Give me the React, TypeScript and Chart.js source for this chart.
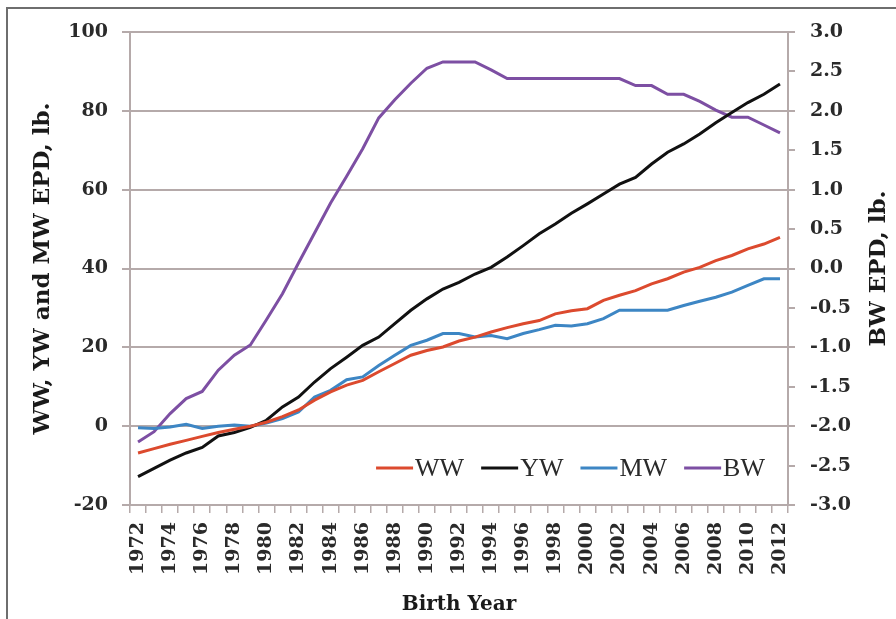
import React, { useEffect, useRef } from "react";
import { Chart, registerables } from "chart.js";

Chart.register(...registerables);

const years: string[] = [];
for (let y = 1972; y <= 2012; y++) years.push(String(y));

const wwValues = [
  -6.8, -5.7, -4.6, -3.6, -2.6, -1.6, -0.8, 0, 1.0, 2.4, 4.1, 6.6, 8.7, 10.4, 11.6, 13.8, 15.9, 18.0, 19.2, 20.1,
  21.6, 22.6, 23.9, 25.0, 26.0, 26.8, 28.5, 29.3, 29.8, 31.9, 33.2, 34.4, 36.1, 37.4, 39.1, 40.3, 42.0, 43.3, 45.0,
  46.2, 47.9,
];
const ywValues = [
  -12.8, -10.7, -8.6, -6.8, -5.4, -2.5, -1.6, -0.3, 1.5, 4.9, 7.4, 11.2, 14.6, 17.5, 20.5, 22.6, 26.0, 29.4, 32.3,
  34.8, 36.5, 38.6, 40.3, 42.9, 45.8, 48.8, 51.3, 54.0, 56.4, 58.9, 61.4, 63.1, 66.5, 69.5, 71.6, 74.1, 77.0, 79.6,
  82.1, 84.2, 86.8,
];
const mwValues = [
  -0.4, -0.6, -0.2, 0.5, -0.6, 0, 0.3, 0, 0.8, 1.9, 3.6, 7.4, 9.1, 11.8, 12.5, 15.4, 18.0, 20.5, 21.8, 23.5, 23.5,
  22.6, 23.0, 22.2, 23.5, 24.5, 25.6, 25.4, 26.0, 27.3, 29.4, 29.4, 29.4, 29.4, 30.6, 31.7, 32.7, 34.0, 35.7, 37.4,
  37.4,
];
const bwValues = [
  -2.2, -2.07, -1.84, -1.65, -1.56, -1.29, -1.1, -0.97, -0.65, -0.32, 0.07, 0.45, 0.83, 1.17, 1.52, 1.91, 2.14, 2.35,
  2.54, 2.62, 2.62, 2.62, 2.52, 2.41, 2.41, 2.41, 2.41, 2.41, 2.41, 2.41, 2.41, 2.32, 2.32, 2.21, 2.21, 2.12, 2.01,
  1.92, 1.92, 1.82, 1.72,
];

const seriesNames = ["WW", "YW", "MW", "BW"];
const seriesColors = ["#dc4a2e", "#111111", "#3d86c4", "#7d4fa3"];

const xTitle = "Birth Year";
const leftTitle = "WW, YW and MW EPD, lb.";
const rightTitle = "BW EPD, lb.";

const FONT = "'DejaVu Serif', serif";
const LEGEND_FONT = "'Liberation Serif', serif";
const GRID = "#b5aaaa";
const TEXT = "#2a2a2a";

const legendPlugin = {
  id: "insideLegend",
  afterDatasetsDraw(chart: any) {
    const { ctx, chartArea } = chart;
    ctx.save();
    ctx.font = `26px ${LEGEND_FONT}`;
    const lineLen = 37;
    const gapText = 2;
    const gapItem = 17;
    const widths = seriesNames.map((n) => ctx.measureText(n).width);
    let total = 0;
    widths.forEach((w, i) => {
      total += lineLen + gapText + w + (i < widths.length - 1 ? gapItem : 0);
    });
    let x = chartArea.right - 23 - total;
    const y = chartArea.bottom - 37;
    ctx.textBaseline = "middle";
    ctx.textAlign = "left";
    seriesNames.forEach((n, i) => {
      ctx.strokeStyle = seriesColors[i];
      ctx.lineWidth = 3;
      ctx.beginPath();
      ctx.moveTo(x, y);
      ctx.lineTo(x + lineLen, y);
      ctx.stroke();
      x += lineLen + gapText;
      ctx.fillStyle = "#2a2a2a";
      ctx.fillText(n, x, y + 1);
      x += widths[i] + gapItem;
    });
    ctx.restore();
  },
};

const rightTitlePlugin = {
  id: "rightTitle",
  afterDraw(chart: any) {
    const { ctx, chartArea } = chart;
    ctx.save();
    ctx.font = `bold 23px ${FONT}`;
    ctx.fillStyle = "#1a1a1a";
    ctx.translate(879, (chartArea.top + chartArea.bottom) / 2);
    ctx.rotate(-Math.PI / 2);
    ctx.textAlign = "center";
    ctx.textBaseline = "middle";
    ctx.fillText(rightTitle, 0, 0);
    ctx.restore();
  },
};

export default function App() {
  const ref = useRef<HTMLCanvasElement | null>(null);

  useEffect(() => {
    if (!ref.current) return;
    const data = [wwValues, ywValues, mwValues, bwValues];
    const chart = new Chart(ref.current, {
      type: "line",
      data: {
        labels: years,
        datasets: seriesNames.map((name, i) => ({
          label: name,
          data: data[i],
          borderColor: seriesColors[i],
          backgroundColor: seriesColors[i],
          borderWidth: 3,
          pointRadius: 0,
          tension: 0,
          yAxisID: i === 3 ? "y2" : "y",
        })),
      },
      options: {
        responsive: false,
        animation: false,
        layout: { padding: { left: 29, top: 32, right: 0, bottom: 2 } },
        plugins: {
          legend: { display: false },
          tooltip: { enabled: false },
        },
        scales: {
          x: {
            type: "category",
            offset: true,
            grid: {
              offset: true,
              drawOnChartArea: false,
              drawTicks: true,
              tickLength: 8,
              color: GRID,
              lineWidth: 1.5,
            },
            border: { color: GRID, width: 2 },
            ticks: {
              autoSkip: false,
              minRotation: 90,
              maxRotation: 90,
              padding: 9,
              color: TEXT,
              font: { family: FONT, size: 19, weight: "bold" },
              callback: (_v: any, idx: number) => (idx % 2 === 0 ? years[idx] : ""),
            },
            title: {
              display: true,
              text: xTitle,
              color: "#1a1a1a",
              font: { family: FONT, size: 20, weight: "bold" },
              padding: 0,
            },
            afterFit: (s: any) => {
              s.height = 619 - 505 - 2;
            },
          },
          y: {
            position: "left",
            min: -20,
            max: 100,
            ticks: {
              stepSize: 20,
              padding: 14,
              color: TEXT,
              font: { family: FONT, size: 19, weight: "bold" },
            },
            grid: { color: GRID, lineWidth: 2, tickLength: 8 },
            border: { color: GRID, width: 2 },
            title: {
              display: true,
              text: leftTitle,
              color: "#1a1a1a",
              font: { family: FONT, size: 23, weight: "bold" },
              padding: 0,
            },
            afterFit: (s: any) => {
              s.width = 130 - 29;
            },
          },
          y2: {
            position: "right",
            min: -3,
            max: 3,
            ticks: {
              stepSize: 0.5,
              padding: 15,
              color: TEXT,
              font: { family: FONT, size: 19, weight: "bold" },
              callback: (v: any) => Number(v).toFixed(1),
            },
            grid: { drawOnChartArea: false, color: GRID, lineWidth: 2, tickLength: 7 },
            border: { color: GRID, width: 2 },
            afterFit: (s: any) => {
              s.width = 896 - 788;
            },
          },
        },
      },
      plugins: [legendPlugin, rightTitlePlugin],
    } as any);
    return () => chart.destroy();
  }, []);

  return (
    <div
      style={{
        position: "absolute",
        left: 0,
        top: 0,
        width: 896,
        height: 619,
        overflow: "hidden",
        background: "#ffffff",
      }}
    >
      <canvas ref={ref} width={896} height={619} style={{ position: "absolute", left: 0, top: 0 }} />
      <div
        style={{
          position: "absolute",
          left: 6,
          top: 7,
          width: 950,
          height: 700,
          borderLeft: "2px solid #6e6e6e",
          borderTop: "2px solid #6e6e6e",
          pointerEvents: "none",
        }}
      />
    </div>
  );
}
